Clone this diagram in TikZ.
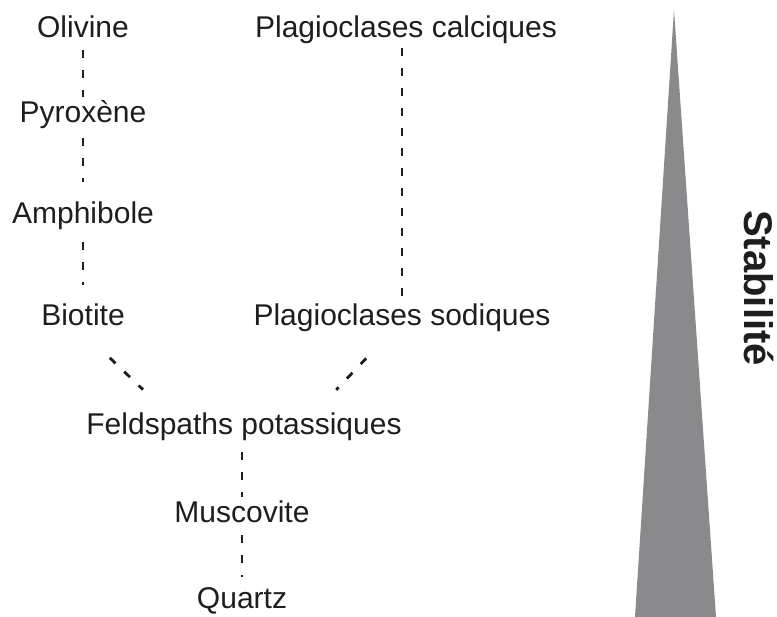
\documentclass[tikz,border=0pt]{standalone}
\usepackage{fontspec}
\setmainfont{Liberation Sans}
\usetikzlibrary{calc}
\definecolor{txt}{HTML}{1E1E1E}
\definecolor{tri}{HTML}{8A8A8C}
\begin{document}
\begin{tikzpicture}[x=1pt,y=-1pt,
  lbl/.style={font=\fontsize{30}{30}\selectfont, text=txt, inner sep=0pt, anchor=base,
              text height=21pt, text depth=6pt},
  link/.style={line width=2.8pt, draw=txt, dash pattern=on 8pt off 12pt},
  stab/.style={font=\bfseries\fontsize{40}{40}\selectfont, text=txt, inner sep=0pt, rotate=-90}
]
\fill[white] (0,0) rectangle (777,617);
\useasboundingbox (0,0) rectangle (777,617);

% stability wedge
\fill[tri] (674,10) -- (716,617) -- (635,617) -- cycle;
\node[stab] (stabilite) at (759,288) {Stabilité};

% minerals
\node[lbl] (olivine)   at (83,38)   {Olivine};
\node[lbl] (pyroxene)  at (83,123)  {Pyroxène};
\node[lbl] (amphibole) at (83,224)  {Amphibole};
\node[lbl] (biotite)   at (83,326)  {Biotite};
\node[lbl] (calc)      at (406,38)  {Plagioclases calciques};
\node[lbl] (sod)       at (402,326) {Plagioclases sodiques};
\node[lbl] (feld)      at (244,435) {Feldspaths potassiques};
\node[lbl] (musc)      at (242,523) {Muscovite};
\node[lbl] (quartz)    at (242,608) {Quartz};

% links
\draw[link, shorten <=6pt, shorten >=5pt]  (olivine.south) -- (pyroxene.north);
\draw[link, shorten <=9pt, shorten >=21pt] (pyroxene.south) -- (amphibole.north);
\draw[link, shorten <=12pt, shorten >=20pt] (amphibole.south) -- (biotite.north);
\draw[link, shorten <=4pt, shorten >=8pt]  (calc.south -| sod.north) -- (sod.north);
\draw[link, shorten <=37pt, shorten >=35pt] (biotite.south) -- ($(feld.north west)!0.26!(feld.north east)$);
\draw[link, shorten <=36pt, shorten >=33pt] ($(sod.south west)!0.463!(sod.south east)$) -- ($(feld.north west)!0.72!(feld.north east)$);
\draw[link, shorten <=11pt, shorten >=5pt] (feld.south -| musc.north) -- (musc.north);
\draw[link, shorten <=6pt, shorten >=10pt] (musc.south) -- (quartz.north);
\end{tikzpicture}
\end{document}
